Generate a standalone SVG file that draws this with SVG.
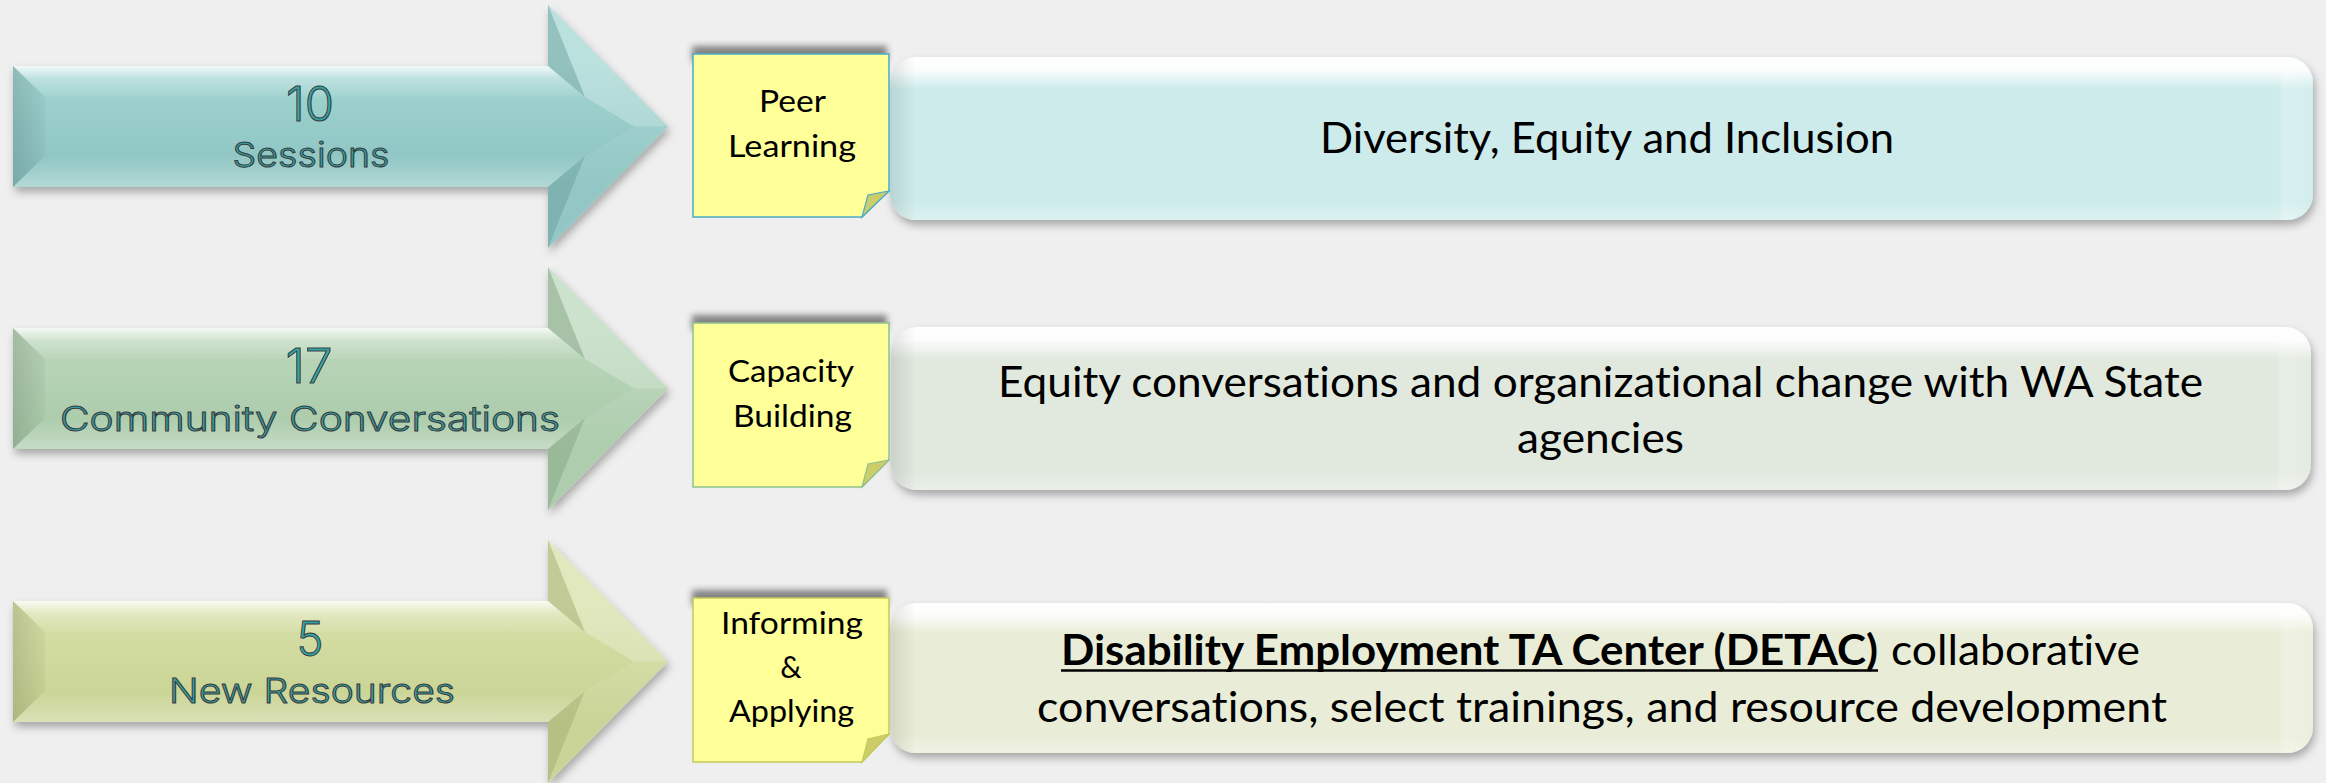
<svg xmlns="http://www.w3.org/2000/svg" xmlns:xlink="http://www.w3.org/1999/xlink" width="2326" height="783" viewBox="0 0 2326 783">
<defs>
<style>
text{font-variant-ligatures:none;font-feature-settings:"liga" 0,"clig" 0;}
.atext{font-family:"Inter","Noto Sans","DejaVu Sans",sans-serif;font-weight:300;fill:#33a5a8;stroke:#3a3a3a;stroke-width:1;}
.num{font-size:48px;}
.lab{font-size:34px;}
.note-t{font-family:"Lato","Open Sans",sans-serif;font-size:30px;fill:#000;}
.box-t{font-family:"Lato","Open Sans",sans-serif;font-size:42px;fill:#000;}
.bold{font-weight:bold;}
.note-shadow{fill:#2a2a2a;opacity:0.55;}
</style>
<filter id="shadow" x="-5%" y="-10%" width="110%" height="135%"><feDropShadow dx="2" dy="5" stdDeviation="4" flood-color="#000" flood-opacity="0.3"/></filter>
<filter id="blur" x="-10%" y="-50%" width="120%" height="200%"><feGaussianBlur stdDeviation="3"/></filter>

<linearGradient id="a1" x1="0" y1="66" x2="0" y2="187" gradientUnits="userSpaceOnUse"><stop offset="0" stop-color="#a4d7d4"/><stop offset="0.5" stop-color="#96cbc8"/><stop offset="1" stop-color="#8ac3c0"/></linearGradient>
<linearGradient id="a2" x1="0" y1="66" x2="0" y2="187" gradientUnits="userSpaceOnUse"><stop offset="0" stop-color="#bcd8bc"/><stop offset="0.5" stop-color="#b2d0b2"/><stop offset="1" stop-color="#a7c9a7"/></linearGradient>
<linearGradient id="a3" x1="0" y1="66" x2="0" y2="187" gradientUnits="userSpaceOnUse"><stop offset="0" stop-color="#d8e1a9"/><stop offset="0.5" stop-color="#cfd99d"/><stop offset="1" stop-color="#c6d190"/></linearGradient>

<linearGradient id="f-top" x1="0" y1="66" x2="0" y2="97" gradientUnits="userSpaceOnUse"><stop offset="0" stop-color="#fff" stop-opacity="0.85"/><stop offset="0.4" stop-color="#fff" stop-opacity="0.3"/><stop offset="1" stop-color="#fff" stop-opacity="0.05"/></linearGradient>
<linearGradient id="f-left" x1="13" y1="0" x2="45" y2="0" gradientUnits="userSpaceOnUse"><stop offset="0" stop-color="#000" stop-opacity="0.13"/><stop offset="1" stop-color="#000" stop-opacity="0.03"/></linearGradient>
<linearGradient id="f-bot" x1="0" y1="156" x2="0" y2="187" gradientUnits="userSpaceOnUse"><stop offset="0" stop-color="#fff" stop-opacity="0"/><stop offset="1" stop-color="#fff" stop-opacity="0.35"/></linearGradient>

<g id="arrow-facets">
<path d="M13,66 H548 L585,97 H45 Z" fill="url(#f-top)"/>
<path d="M13,66 L45,97 V156 L13,187 Z" fill="url(#f-left)"/>
<path d="M13,187 H548 L585,156 H45 Z" fill="url(#f-bot)"/>
<path d="M548,66 V5 L585,97 Z" fill="#000" fill-opacity="0.1"/>
<path d="M548,5 L668,126.5 L634,126.5 L585,97 Z" fill="#fff" fill-opacity="0.25"/>
<path d="M668,126.5 L548,248 L585,156 L634,126.5 Z" fill="#fff" fill-opacity="0.08"/>
<path d="M548,248 V187 L585,156 Z" fill="#000" fill-opacity="0.08"/>
</g>

<linearGradient id="bv" x1="0" y1="0" x2="0" y2="1"><stop offset="0" stop-color="#fff" stop-opacity="1"/><stop offset="0.08" stop-color="#fff" stop-opacity="0.9"/><stop offset="0.2" stop-color="#fff" stop-opacity="0"/><stop offset="0.88" stop-color="#fff" stop-opacity="0"/><stop offset="1" stop-color="#fff" stop-opacity="0.3"/></linearGradient>
<linearGradient id="bh" x1="0" y1="0" x2="1" y2="0"><stop offset="0" stop-color="#000" stop-opacity="0.1"/><stop offset="0.018" stop-color="#000" stop-opacity="0"/><stop offset="0.975" stop-color="#fff" stop-opacity="0"/><stop offset="0.98" stop-color="#fff" stop-opacity="0.25"/><stop offset="1" stop-color="#fff" stop-opacity="0.1"/></linearGradient>
</defs>

<rect x="0" y="0" width="2326" height="783" fill="#efefef"/>

<g id="connectors"></g>

<!-- Arrows -->
<g id="arrow-1">
<g filter="url(#shadow)"><path d="M13,66 H548 V5 L668,126.5 L548,248 V187 H13 Z" fill="url(#a1)"/></g>
<use xlink:href="#arrow-facets"/>
<text class="atext num" x="310" y="121" text-anchor="middle" textLength="48" lengthAdjust="spacingAndGlyphs">10</text>
<text class="atext lab" x="311" y="167" text-anchor="middle" textLength="157" lengthAdjust="spacingAndGlyphs">Sessions</text>
</g>

<g id="arrow-2">
<g transform="translate(0,262)">
<g filter="url(#shadow)"><path d="M13,66 H548 V5 L668,126.5 L548,248 V187 H13 Z" fill="url(#a2)"/></g>
<use xlink:href="#arrow-facets"/>
</g>
<text class="atext num" x="309" y="383" text-anchor="middle" textLength="47" lengthAdjust="spacingAndGlyphs">17</text>
<text class="atext lab" x="310" y="431" text-anchor="middle" textLength="500" lengthAdjust="spacingAndGlyphs">Community Conversations</text>
</g>

<g id="arrow-3">
<g transform="translate(0,535)">
<g filter="url(#shadow)"><path d="M13,66 H548 V5 L668,126.5 L548,248 V187 H13 Z" fill="url(#a3)"/></g>
<use xlink:href="#arrow-facets"/>
</g>
<text class="atext num" x="310" y="656" text-anchor="middle" textLength="27" lengthAdjust="spacingAndGlyphs">5</text>
<text class="atext lab" x="312" y="703" text-anchor="middle" textLength="286" lengthAdjust="spacingAndGlyphs">New Resources</text>
</g>

<!-- Boxes -->
<g id="box-1">
<rect x="890" y="57" width="1423" height="163" rx="26" fill="#cdebeb" filter="url(#shadow)"/>
<rect x="890" y="57" width="1423" height="163" rx="26" fill="url(#bv)"/>
<rect x="890" y="57" width="1423" height="163" rx="26" fill="url(#bh)"/>
<text class="box-t" x="1320" y="153" textLength="574" lengthAdjust="spacingAndGlyphs">Diversity, Equity and Inclusion</text>
</g>

<g id="box-2">
<rect x="891" y="327" width="1420" height="163" rx="26" fill="#e1e9df" filter="url(#shadow)"/>
<rect x="891" y="327" width="1420" height="163" rx="26" fill="url(#bv)"/>
<rect x="891" y="327" width="1420" height="163" rx="26" fill="url(#bh)"/>
<text class="box-t" x="998" y="397" textLength="1205" lengthAdjust="spacingAndGlyphs">Equity conversations and organizational change with WA State</text>
<text class="box-t" x="1517" y="453" textLength="167" lengthAdjust="spacingAndGlyphs">agencies</text>
</g>

<g id="box-3">
<rect x="890" y="603" width="1423" height="150" rx="26" fill="#e9edd7" filter="url(#shadow)"/>
<rect x="890" y="603" width="1423" height="150" rx="26" fill="url(#bv)"/>
<rect x="890" y="603" width="1423" height="150" rx="26" fill="url(#bh)"/>
<text class="box-t bold" x="1061" y="665" textLength="817" lengthAdjust="spacingAndGlyphs">Disability Employment TA Center (DETAC)</text>
<line x1="1061" y1="670.5" x2="1878" y2="670.5" stroke="#000" stroke-width="2.5"/>
<text class="box-t" x="1891" y="665" textLength="249" lengthAdjust="spacingAndGlyphs">collaborative</text>
<text class="box-t" x="1037" y="722" textLength="1130" lengthAdjust="spacingAndGlyphs">conversations, select trainings, and resource development</text>
</g>

<!-- Sticky notes -->
<g id="note-1">
<rect class="note-shadow" x="692" y="46" width="195" height="16" filter="url(#blur)"/>
<path d="M693,54 H889 V191 L862,217 H693 Z" fill="#ffff99" stroke="#4bacc6" stroke-width="1.5"/>
<path d="M862,217 L868,195 L889,191 Z" fill="#cccc6a" stroke="#4bacc6" stroke-width="1.2"/>
<text class="note-t" x="759" y="112" textLength="67" lengthAdjust="spacingAndGlyphs">Peer</text>
<text class="note-t" x="728" y="157" textLength="128" lengthAdjust="spacingAndGlyphs">Learning</text>
</g>

<g id="note-2">
<rect class="note-shadow" x="692" y="315" width="195" height="16" filter="url(#blur)"/>
<path d="M693,323 H889 V460 L862,487 H693 Z" fill="#ffff99" stroke="#8fc28f" stroke-width="1.5"/>
<path d="M862,487 L868,464 L889,460 Z" fill="#cccc6a" stroke="#8fc28f" stroke-width="1.2"/>
<text class="note-t" x="728" y="382" textLength="126" lengthAdjust="spacingAndGlyphs">Capacity</text>
<text class="note-t" x="733" y="427" textLength="119" lengthAdjust="spacingAndGlyphs">Building</text>
</g>

<g id="note-3">
<rect class="note-shadow" x="692" y="590" width="195" height="16" filter="url(#blur)"/>
<path d="M693,598 H889 V734 L862,762 H693 Z" fill="#ffff99" stroke="#c3cb5a" stroke-width="1.5"/>
<path d="M862,762 L868,739 L889,734 Z" fill="#cccc6a" stroke="#c3cb5a" stroke-width="1.2"/>
<text class="note-t" x="721" y="634" textLength="142" lengthAdjust="spacingAndGlyphs">Informing</text>
<text class="note-t" x="791" y="678" text-anchor="middle">&amp;</text>
<text class="note-t" x="729" y="722" textLength="125" lengthAdjust="spacingAndGlyphs">Applying</text>
</g>
</svg>
